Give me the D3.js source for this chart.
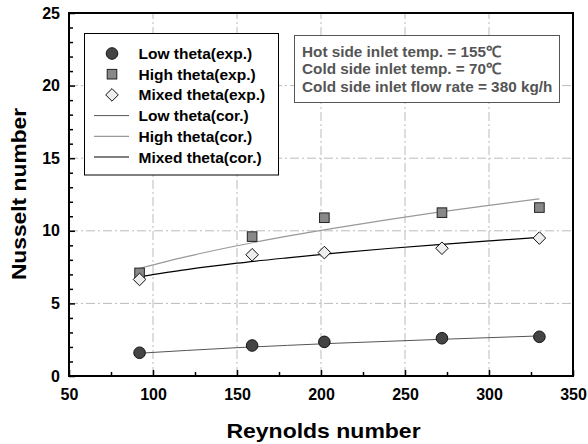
<!DOCTYPE html>
<html>
<head>
<meta charset="utf-8">
<script src="https://cdn.jsdelivr.net/npm/d3@7"></script>
<style>
  body { margin: 0; background: #fff; }
  svg { font-family: "Liberation Sans", Arial, sans-serif; font-weight: bold; }
</style>
</head>
<body>
<div id="chart"></div>
<script>
// experimental points
const reynolds = [92, 159, 202, 272, 330];
const lowExp = [1.6, 2.1, 2.35, 2.6, 2.7];
const highExp = [7.1, 9.6, 10.9, 11.25, 11.6];
const mixedExp = [6.65, 8.35, 8.5, 8.8, 9.5];

// correlation curves
const reCor = [92, 120, 150, 180, 210, 240, 270, 300, 330];
const lowCor = [1.57, 1.76, 1.95, 2.11, 2.26, 2.39, 2.52, 2.64, 2.76];
const highCor = [7.41, 8.22, 8.97, 9.63, 10.22, 10.77, 11.28, 11.75, 12.2];
const mixedCor = [6.84, 7.33, 7.77, 8.14, 8.48, 8.78, 9.05, 9.30, 9.55];

const xTicks = [50, 100, 150, 200, 250, 300, 350];
const yTicks = [0, 5, 10, 15, 20, 25];
const legendLabels = ['Low theta(exp.)', 'High theta(exp.)', 'Mixed theta(exp.)',
                      'Low theta(cor.)', 'High theta(cor.)', 'Mixed theta(cor.)'];
const noteLines = ['Hot side inlet temp. = 155\u2103', 'Cold side inlet temp. = 70\u2103',
                   'Cold side inlet flow rate = 380 kg/h'];

const width = 588, height = 444;
const margin = { top: 13, right: 15, bottom: 68, left: 69 };

const svg = d3.select('#chart').append('svg')
  .attr('width', width).attr('height', height);

const x = d3.scaleLinear().domain([50, 350]).range([margin.left, width - margin.right]);
const y = d3.scaleLinear().domain([0, 25]).range([height - margin.bottom, margin.top]);

// grid (dash-dot)
const grid = svg.append('g').attr('stroke', '#bbb').attr('stroke-width', 1)
  .attr('stroke-dasharray', '9,3,2,3');
grid.selectAll('.gx').data(xTicks.slice(1, -1)).enter().append('line')
  .attr('x1', d => x(d)).attr('x2', d => x(d))
  .attr('y1', y(0)).attr('y2', y(25));
grid.selectAll('.gy').data(yTicks.slice(1, -1)).enter().append('line')
  .attr('y1', d => y(d)).attr('y2', d => y(d))
  .attr('x1', x(50)).attr('x2', x(350));

// axes with inward ticks
svg.append('g').attr('transform', `translate(0,${y(0)})`)
  .call(d3.axisBottom(x).tickValues(xTicks).tickSize(-6).tickPadding(13).tickFormat(d3.format('d')));
svg.append('g').attr('transform', `translate(0,${y(0)})`)
  .call(d3.axisBottom(x).tickValues(d3.range(75, 350, 50)).tickSize(-4).tickFormat(''));
svg.append('g').attr('transform', `translate(${x(50)},0)`)
  .call(d3.axisLeft(y).tickValues(yTicks).tickSize(-6).tickPadding(9).tickFormat(d3.format('d')));
svg.append('g').attr('transform', `translate(${x(50)},0)`)
  .call(d3.axisLeft(y).tickValues(d3.range(1, 25).filter(v => v % 5 !== 0)).tickSize(-4).tickFormat(''));

svg.selectAll('.domain').remove();
svg.selectAll('.tick line').attr('stroke', '#000').attr('stroke-width', 1.5);
svg.selectAll('.tick text').attr('font-size', 16).attr('font-weight', 'bold')
  .attr('font-family', '"Liberation Sans", Arial, sans-serif').attr('fill', '#000');

// frame
svg.append('rect')
  .attr('x', x(50)).attr('y', y(25))
  .attr('width', x(350) - x(50)).attr('height', y(0) - y(25))
  .attr('fill', 'none').attr('stroke', '#000').attr('stroke-width', 2);

// correlation lines
const line = d3.line().x(d => x(d[0])).y(d => y(d[1])).curve(d3.curveMonotoneX);
const corSeries = [
  { vals: lowCor, color: '#555', w: 1 },
  { vals: highCor, color: '#999', w: 1.2 },
  { vals: mixedCor, color: '#000', w: 1.2 }
];
corSeries.forEach(s => {
  svg.append('path')
    .datum(reCor.map((r, i) => [r, s.vals[i]]))
    .attr('d', line)
    .attr('fill', 'none').attr('stroke', s.color).attr('stroke-width', s.w);
});

// markers
function drawMarker(g, type, cx, cy) {
  if (type === 'circle') {
    g.append('circle').attr('cx', cx).attr('cy', cy).attr('r', 5.8)
      .attr('fill', '#444').attr('stroke', '#111').attr('stroke-width', 1);
  } else if (type === 'square') {
    g.append('rect').attr('x', cx - 4.8).attr('y', cy - 4.8).attr('width', 9.6).attr('height', 9.6)
      .attr('fill', '#888').attr('stroke', '#222').attr('stroke-width', 1);
  } else {
    const s = 6.3;
    g.append('path').attr('d', `M${cx},${cy - s}L${cx + s},${cy}L${cx},${cy + s}L${cx - s},${cy}Z`)
      .attr('fill', '#eee').attr('stroke', '#111').attr('stroke-width', 1);
  }
}
const pts = svg.append('g');
reynolds.forEach((r, i) => drawMarker(pts, 'circle', x(r), y(lowExp[i])));
reynolds.forEach((r, i) => drawMarker(pts, 'square', x(r), y(highExp[i])));
reynolds.forEach((r, i) => drawMarker(pts, 'diamond', x(r), y(mixedExp[i])));

// legend
const leg = svg.append('g');
leg.append('rect').attr('x', 84.5).attr('y', 33.5).attr('width', 194).attr('height', 141.5)
  .attr('fill', '#fff').attr('stroke', '#000').attr('stroke-width', 1);
const legTypes = ['circle', 'square', 'diamond'];
legendLabels.forEach((lab, i) => {
  const cy = 53.5 + i * 20.7;
  if (i < 3) {
    drawMarker(leg, legTypes[i], 112, cy);
  } else {
    const s = corSeries[i - 3];
    leg.append('line').attr('x1', 94).attr('x2', 129).attr('y1', cy).attr('y2', cy)
      .attr('stroke', s.color).attr('stroke-width', s.w);
  }
  leg.append('text').attr('x', 138.5).attr('y', cy + 5.5)
    .attr('font-size', 15.5).attr('fill', '#000').text(lab);
});

// note box
const note = svg.append('g');
note.append('rect').attr('x', 294.5).attr('y', 35.5).attr('width', 265).attr('height', 67)
  .attr('fill', '#fff').attr('stroke', '#555').attr('stroke-width', 1);
noteLines.forEach((t, i) => {
  note.append('text').attr('x', 302).attr('y', 56.5 + i * 17.5)
    .attr('font-size', 15.3).attr('fill', '#555').text(t);
});

// axis titles (glyphs in the original are a bit wide, so stretch horizontally)
svg.append('text').attr('transform', 'translate(323.5,438) scale(1.15,1)')
  .attr('text-anchor', 'middle').attr('font-size', 20).attr('fill', '#000')
  .text('Reynolds number');
svg.append('text').attr('transform', `translate(25.5,194) rotate(-90) scale(1.14,1)`)
  .attr('text-anchor', 'middle').attr('font-size', 20).attr('fill', '#000')
  .text('Nusselt number');
</script>
</body>
</html>
